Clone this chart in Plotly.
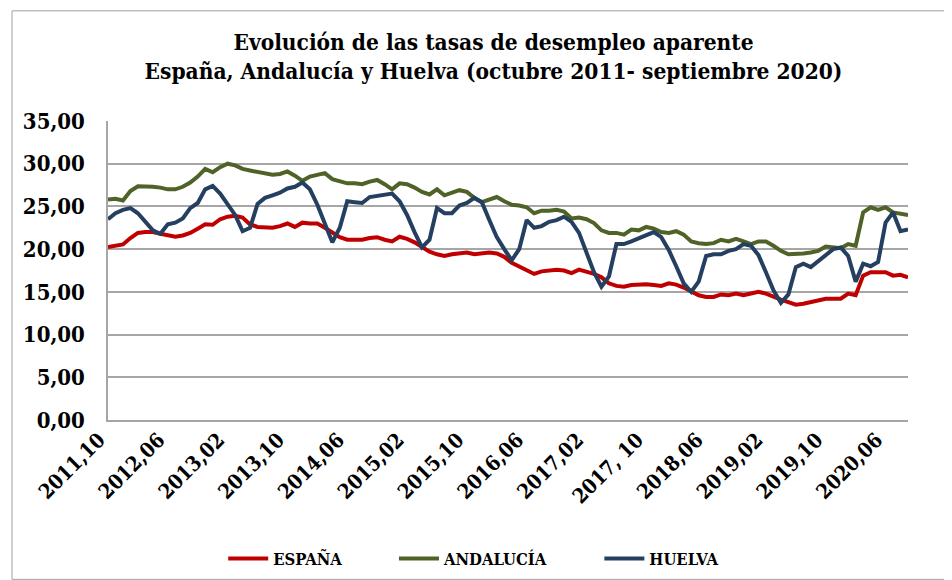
import plotly.graph_objects as go

tick_labels = ["2011,10", "2012,06", "2013,02", "2013,10", "2014,06", "2015,02", "2015,10",
               "2016,06", "2017,02", "2017, 10", "2018,06", "2019,02", "2019,10", "2020,06"]
tick_positions = list(range(0, 108, 8))
months = list(range(108))  # octubre 2011 - septiembre 2020

espana = [20.25, 20.4, 20.55, 21.3, 21.9, 22.0, 22.0, 21.8, 21.6, 21.45,
          21.6, 21.9, 22.4, 22.9, 22.85, 23.5, 23.8, 23.9, 23.7, 22.9,
          22.6, 22.5, 22.5, 22.7, 23.0, 22.6, 23.1, 23.0, 23.0, 22.5,
          21.9, 21.4, 21.1, 21.1, 21.1, 21.3, 21.4, 21.1, 20.9, 21.45,
          21.2, 20.8, 20.2, 19.7, 19.4, 19.2, 19.4, 19.5, 19.6, 19.4,
          19.5, 19.6, 19.5, 19.1, 18.4, 18.0, 17.6, 17.1, 17.4, 17.5,
          17.6, 17.5, 17.2, 17.6, 17.4, 17.1, 16.7, 16.0, 15.7, 15.6,
          15.8, 15.9, 15.9, 15.8, 15.7, 16.0, 15.85, 15.5, 15.0, 14.6,
          14.4, 14.4, 14.7, 14.6, 14.8, 14.6, 14.8, 15.0, 14.8, 14.4,
          14.1, 13.8, 13.5, 13.6, 13.8, 13.9, 14.2, 14.2, 14.2, 14.8,
          14.6, 16.9, 17.3, 17.3, 17.3, 16.9, 17.0, 16.7]

andalucia = [25.8, 25.9, 25.7, 26.8, 27.35, 27.35, 27.3, 27.2, 27.0, 27.0,
             27.3, 27.8, 28.5, 29.4, 29.0, 29.6, 30.0, 29.8, 29.4, 29.2,
             29.0, 28.9, 28.7, 28.8, 29.1, 28.6, 28.0, 28.5, 28.7, 28.9,
             28.2, 27.9, 27.7, 27.7, 27.6, 27.9, 28.1, 27.6, 27.0, 27.7,
             27.6, 27.2, 26.7, 26.4, 27.0, 26.3, 26.6, 26.9, 26.7, 26.0,
             25.5, 25.8, 26.1, 25.6, 25.2, 25.1, 24.9, 24.2, 24.5, 24.5,
             24.6, 24.4, 23.6, 23.7, 23.5, 23.05, 22.2, 21.9, 21.9, 21.7,
             22.3, 22.2, 22.6, 22.4, 22.0, 21.9, 22.1, 21.7, 20.9, 20.7,
             20.6, 20.7, 21.1, 20.9, 21.2, 20.9, 20.6, 20.9, 20.9, 20.4,
             19.8, 19.4, 19.4, 19.5, 19.6, 19.8, 20.3, 20.2, 20.1, 20.6,
             20.4, 24.3, 24.9, 24.6, 24.9, 24.3, 24.2, 24.0]

huelva = [23.5, 24.2, 24.6, 24.8, 24.2, 23.2, 22.2, 21.8, 22.9, 23.1,
          23.6, 24.8, 25.4, 27.0, 27.4, 26.5, 25.3, 24.0, 22.1, 22.5,
          25.3, 26.0, 26.3, 26.6, 27.1, 27.3, 27.8, 27.0, 25.2, 23.0,
          20.8, 22.5, 25.6, 25.5, 25.4, 26.1, 26.2, 26.4, 26.5, 25.6,
          24.0, 22.0, 20.2, 21.1, 24.8, 24.2, 24.2, 25.1, 25.4, 26.0,
          25.5, 23.4, 21.4, 20.0, 18.7, 20.0, 23.4, 22.5, 22.7, 23.2,
          23.4, 23.8, 23.2, 21.9, 19.6, 17.3, 15.6, 16.8, 20.6, 20.6,
          20.9, 21.3, 21.6, 22.0, 21.4, 19.9, 18.0, 16.0, 15.0, 16.2,
          19.2, 19.4, 19.4, 19.8, 20.0, 20.6, 20.4, 19.3, 17.3, 15.2,
          13.7, 14.7, 17.9, 18.3, 17.9, 18.6, 19.2, 20.0, 20.2, 19.2,
          16.2, 18.3, 18.0, 18.5, 23.1, 24.3, 22.1, 22.3]

series = [("ESPAÑA", espana, "#C00000"),
          ("ANDALUCÍA", andalucia, "#4F6228"),
          ("HUELVA", huelva, "#243F60")]

FONT = "DejaVu Serif Condensed, Liberation Serif, serif"
PAD = "&nbsp;" * 10

fig = go.Figure()
for name, vals, color in series:
    fig.add_trace(go.Scatter(x=months, y=vals, name="<b>" + name + "</b>" + PAD, mode="lines",
                             line=dict(color=color, width=4)))

fig.update_layout(
    width=952, height=580,
    margin=dict(l=100, r=52, t=113, b=163),
    paper_bgcolor="white", plot_bgcolor="white",
    separators=",.",
    font=dict(family=FONT, color="black"),
    title=dict(
        text="<b>Evolución de las tasas de desempleo aparente</b><br><b>España, Andalucía y Huelva (octubre 2011- septiembre 2020)</b>",
        x=0.51, xanchor="center", y=0.928, yanchor="top",
        font=dict(family=FONT, size=22.5, color="black")),
    showlegend=True,
    legend=dict(orientation="h", x=0.144, xanchor="left", y=-0.464, yanchor="middle",
                font=dict(family=FONT, size=16.5, color="black"),
                itemwidth=40, tracegroupgap=0, bgcolor="rgba(0,0,0,0)"),
    xaxis=dict(range=[0, 107], tickmode="array", tickvals=tick_positions,
               ticktext=["<b>" + t + "</b>" for t in tick_labels], tickangle=-45,
               showgrid=False, zeroline=False, showline=True, linecolor="#A6A6A6",
               linewidth=1.5, ticks="", tickfont=dict(family=FONT, size=20.5, color="black"),
               ticklabelstandoff=-2, ticklabelshift=-9),
    yaxis=dict(range=[0, 35], dtick=5, tickformat=".2f", showgrid=True,
               gridcolor="#A6A6A6", gridwidth=1.5, zeroline=False, showline=True,
               linecolor="#A6A6A6", linewidth=1.5, ticks="",
               tickprefix="<b>", ticksuffix="</b>",
               tickfont=dict(family=FONT, size=22, color="black"),
               ticklabelstandoff=17),
)

fig.add_shape(type="rect", xref="paper", yref="paper",
              x0=(4 - 100) / 800, x1=(943 - 100) / 800,
              y0=(417 - 579) / 304, y1=(417 - 1) / 304,
              line=dict(color="#A0A0A0", width=1), fillcolor="rgba(0,0,0,0)", layer="below")

fig.write_html("out.html")
